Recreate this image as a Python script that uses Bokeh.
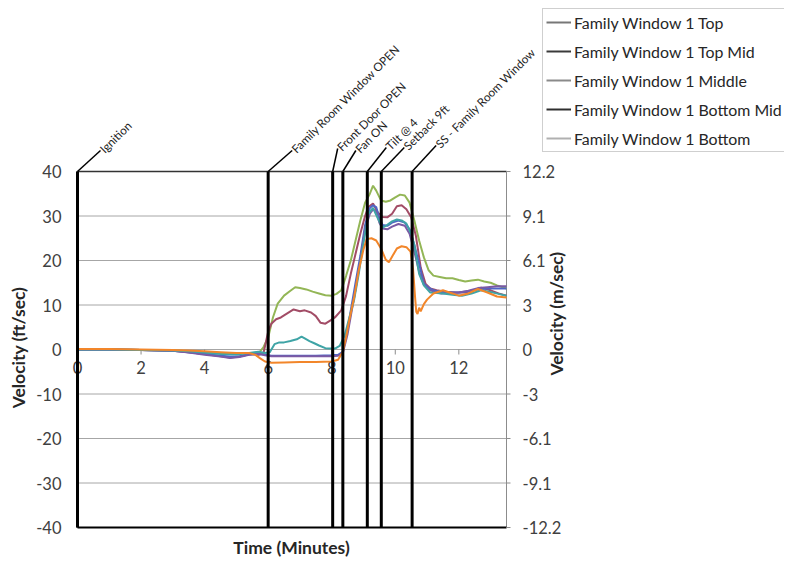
from math import pi
from bokeh.plotting import figure
from bokeh.models import Range1d, Legend, LegendItem, ColumnDataSource
from bokeh.core.properties import value
from bokeh.embed import file_html
from bokeh.resources import INLINE

# ---------------- data ----------------
series_names = ["Family Window 1 Top", "Family Window 1 Top Mid", "Family Window 1 Middle",
                "Family Window 1 Bottom Mid", "Family Window 1 Bottom"]

t_top = [0, 1, 2, 3, 3.5, 4, 4.5, 4.8, 5.1, 5.4, 5.7, 5.9, 6.1, 6.5, 7.0, 7.5, 8.0, 8.2, 8.35, 8.5,
         8.6, 8.75, 8.9, 9.05, 9.2, 9.3, 9.4, 9.5, 9.6, 9.75, 9.9, 10.1, 10.3, 10.45, 10.6, 10.75,
         10.9, 11.05, 11.2, 11.45, 11.7, 12.0, 12.3, 12.6, 12.9, 13.2, 13.5]
v_top = [0, 0, -0.1, -0.3, -0.6, -1.0, -1.4, -1.6, -1.5, -1.1, -1.0, -1.2, -1.4, -1.4, -1.4, -1.4,
         -1.3, -1.2, -0.5, 4.5, 8.8, 15, 21, 28, 31.8, 32.4, 32, 29.5, 28.0, 27.8, 28.5, 29.0, 28.5,
         27, 23.5, 19.3, 14.8, 13.9, 13.3, 12.9, 12.8, 12.8, 13.1, 13.5, 13.7, 13.7, 13.7]

t_topmid = [0, 1, 2, 3, 3.5, 4, 4.5, 4.8, 5.1, 5.4, 5.7, 5.85, 6.0, 6.1, 6.25, 6.4, 6.6, 6.8, 7.0,
            7.15, 7.35, 7.5, 7.65, 7.8, 7.95, 8.1, 8.3, 8.45, 8.6, 8.75, 8.9, 9.05, 9.15, 9.3, 9.45,
            9.6, 9.75, 9.9, 10.05, 10.2, 10.35, 10.5, 10.65, 10.8, 10.95, 11.1, 11.3, 11.6, 11.9,
            12.2, 12.5, 12.7, 13.0, 13.25, 13.5]
v_topmid = [0, 0, -0.1, -0.3, -0.6, -1.0, -1.5, -1.8, -1.6, -1.0, -1.2, -0.9, 4.0, 5.8, 6.8, 7.2,
            8.1, 9.0, 8.6, 8.8, 8.3, 7.5, 6.0, 5.8, 6.5, 7.2, 8.8, 12, 17, 21.5, 26, 30, 32, 32.8,
            30.8, 29.8, 29.7, 30.5, 32.2, 32.4, 31.5, 29.7, 25.5, 18.4, 14.8, 13.7, 13.3, 13.0,
            12.8, 12.8, 13.4, 13.9, 13.3, 12.6, 12.1]

t_middle = [0, 1, 2, 3, 3.5, 4, 4.5, 5, 5.4, 5.7, 5.85, 6.0, 6.15, 6.3, 6.5, 6.7, 6.85, 7.0, 7.2,
            7.4, 7.6, 7.8, 8.0, 8.15, 8.3, 8.45, 8.6, 8.75, 8.9, 9.05, 9.2, 9.3, 9.4, 9.55, 9.7,
            9.85, 10.0, 10.15, 10.3, 10.45, 10.6, 10.75, 10.9, 11.05, 11.2, 11.4, 11.6, 11.8, 12.0,
            12.2, 12.4, 12.6, 12.8, 13.0, 13.2, 13.5]
v_middle = [0, 0, -0.1, -0.2, -0.4, -0.7, -0.9, -1.0, -0.8, -0.8, 0.5, 2.7, 7.2, 10.3, 12.1, 13.2,
            14.0, 13.8, 13.5, 13.0, 12.6, 12.2, 12.1, 12.5, 13.3, 16.5, 20, 24.5, 29, 33, 35, 36.8,
            35.7, 33.5, 33.2, 33.5, 34.2, 34.8, 34.6, 33, 29, 24.5, 20.7, 17.8, 16.6, 16.3, 16.0,
            16.0, 15.6, 15.3, 15.5, 15.7, 15.3, 15.0, 14.4, 13.7]

t_botmid = t_top
v_botmid = [0, 0, -0.1, -0.3, -0.7, -1.2, -1.6, -1.9, -1.7, -1.2, -0.9, -1.3, -1.5, -1.5, -1.5,
            -1.5, -1.5, -1.4, -0.8, 3.5, 7.5, 13.5, 20, 27, 30.5, 31.5, 31, 28.5, 27.2, 27, 27.6,
            28.2, 27.8, 26, 22, 17.5, 14.5, 13.5, 13.0, 12.6, 12.7, 12.8, 13.2, 13.8, 14.0, 14.2,
            14.2]

t_bottom = [0, 1, 2, 3, 3.5, 4, 4.5, 5, 5.4, 5.7, 5.9, 6.05, 6.2, 6.35, 6.5, 6.7, 6.9, 7.05, 7.15,
            7.3, 7.45, 7.6, 7.8, 7.95, 8.1, 8.25, 8.4, 8.55, 8.7, 8.85, 9.0, 9.15, 9.3, 9.45, 9.6,
            9.75, 9.9, 10.05, 10.2, 10.35, 10.5, 10.6, 10.75, 10.9, 11.1, 11.3, 11.5, 11.8, 12.1,
            12.4, 12.7, 13.0, 13.25, 13.5]
v_bottom = [0, 0, -0.1, -0.2, -0.4, -0.7, -1.0, -1.1, -0.8, -0.5, -0.8, -0.6, 1.2, 1.6, 1.6, 1.9,
            2.3, 2.9, 2.5, 1.9, 1.4, 0.9, 0.3, 0.2, 0.2, 0.8, 3, 7, 11, 17, 24, 30.5, 31.8, 29.5,
            27.4, 28, 28.8, 29.2, 29, 28.3, 26, 23.5, 17, 14.4, 12.8, 12.7, 12.6, 12.3, 12.1, 12.6,
            13.3, 12.9, 12.5, 12.1]

t_sixth = [0, 1, 2, 3, 3.5, 4, 4.5, 5, 5.4, 5.6, 5.75, 5.9, 6.1, 6.5, 7.0, 7.5, 8.0, 8.2, 8.35,
           8.45, 8.55, 8.7, 8.85, 9.0, 9.1, 9.25, 9.4, 9.55, 9.7, 9.8, 9.92, 10.05, 10.2, 10.35,
           10.48, 10.56, 10.62, 10.66, 10.7, 10.75, 10.8, 10.9, 11.0, 11.2, 11.5, 11.8, 12.0, 12.3,
           12.6, 12.9, 13.2, 13.5]
v_sixth = [0.1, 0.1, 0, -0.1, -0.2, -0.4, -0.6, -0.8, -0.8, -1.2, -2.0, -2.7, -3.0, -2.9, -2.8,
           -2.8, -2.7, -2.3, -0.5, 2.7, 6.5, 11.5, 17.8, 22.5, 24.8, 25, 24.5, 22.7, 20.2, 19.6,
           21.1, 22.7, 23.2, 23, 22, 18, 12, 8.5, 8.0, 9.4, 8.6, 10.2, 11.2, 12.6, 13.3, 12.6, 12.1,
           12.6, 13.6, 12.8, 11.9, 11.7]

event_times = [0, 6.0, 8.03, 8.35, 9.12, 9.56, 10.53]
event_names = ["Ignition", "Family Room Window OPEN", "Front Door OPEN", "Fan ON", "Tilt @ 4",
               "Setback 9ft", "SS - Family Room Window"]

y_ticks = [-40, -30, -20, -10, 0, 10, 20, 30, 40]
right_tick_labels = ["-12.2", "-9.1", "-6.1", "-3", "0", "3", "6.1", "9.1", "12.2"]
x_ticks = [0, 2, 4, 6, 8, 10, 12]

# ---------------- layout / style ----------------
FONT = "Lato"
W, H = 784, 562
X_END = 13.5
Y_LO, Y_HI = -40, 40
IMG_L, IMG_R, IMG_T, IMG_B = 77, 506, 171, 527   # plot box in picture pixels
PX_PER_X = (IMG_R - IMG_L) / X_END
PX_PER_Y = (IMG_B - IMG_T) / (Y_HI - Y_LO)
IMG_Y0 = IMG_B - (0 - Y_LO) * PX_PER_Y


def dx(px):   # picture pixel x -> minutes
    return (px - IMG_L) / PX_PER_X


def dy(py):   # picture pixel y -> ft/sec
    return (IMG_Y0 - py) / PX_PER_Y


p = figure(width=W, height=H, output_backend="svg", toolbar_location=None,
           x_range=Range1d(dx(0), dx(W)), y_range=Range1d(dy(H), dy(0)),
           min_border=0, x_axis_type=None, y_axis_type=None)
p.outline_line_color = None
p.background_fill_color = "white"
p.border_fill_color = "white"
p.xgrid.visible = False
p.ygrid.visible = False

TXT = "#404040"

# horizontal gridlines + box
grid_src = ColumnDataSource(dict(y=y_ticks[1:-1]))
p.segment(x0=0, x1=X_END, y0="y", y1="y", source=grid_src, line_color="#A6A6A6", line_width=1)
p.segment(x0=[0], x1=[X_END], y0=[Y_HI], y1=[Y_HI], line_color="#333333", line_width=1.5)
p.segment(x0=[X_END], x1=[X_END], y0=[Y_LO], y1=[Y_HI], line_color="#8C8C8C", line_width=1)
p.segment(x0=[0], x1=[X_END], y0=[Y_LO], y1=[Y_LO], line_color="#000000", line_width=2)
p.segment(x0=[0], x1=[0], y0=[Y_LO], y1=[Y_HI], line_color="#000000", line_width=2)

# left tick labels
yt_src = ColumnDataSource(dict(x=[0] * len(y_ticks), xr=[X_END] * len(y_ticks), y=y_ticks,
                               tl=[str(v) for v in y_ticks], tr=right_tick_labels))
p.text(x="x", y="y", text="tl", source=yt_src, x_offset=-16, text_align="right",
       text_baseline="middle", text_font=value(FONT), text_font_size="16.5px", text_color=TXT)
# right (m/sec) tick marks + labels
p.segment(x0="xr", x1=X_END + 4 / PX_PER_X, y0="y", y1="y", source=yt_src,
          line_color="#8C8C8C", line_width=1)
p.text(x="xr", y="y", text="tr", source=yt_src, x_offset=16, text_align="left",
       text_baseline="middle", text_font=value(FONT), text_font_size="16.5px", text_color=TXT)

# x tick marks on zero line and labels
xt_src = ColumnDataSource(dict(x=x_ticks, y=[0] * len(x_ticks), text=[str(v) for v in x_ticks]))
p.segment(x0="x", x1="x", y0="y", y1=-5 / PX_PER_Y, source=xt_src, line_color="#8C8C8C", line_width=1)
p.text(x="x", y=dy(IMG_Y0 + 11), text="text", source=xt_src, text_align="center",
       text_baseline="top", text_font=value(FONT), text_font_size="16.5px", text_color=TXT)

# series
series = [
    (t_middle, v_middle, "#93B656"),
    (t_topmid, v_topmid, "#A24C66"),
    (t_top, v_top, "#4F66C6"),
    (t_botmid, v_botmid, "#7B5AA4"),
    (t_bottom, v_bottom, "#3FA4A6"),
    (t_sixth, v_sixth, "#F2862A"),
]
for tt, vv, col in series:
    p.line(tt, vv, line_color=col, line_width=2)

# event lines
ev_src = ColumnDataSource(dict(x=event_times, y0=[Y_LO] * len(event_times), y1=[Y_HI] * len(event_times)))
p.segment(x0="x", x1="x", y0="y0", y1="y1", source=ev_src, line_color="#000000", line_width=3)

lead_dx_px = [23, 24, 5, 13, 19, 23, 24]
lead_dy_px = [21, 21, 23, 21, 24, 24, 26]
lx = [t + d / PX_PER_X for t, d in zip(event_times, lead_dx_px)]
ly = [Y_HI + d / PX_PER_Y for d in lead_dy_px]
lead_src = ColumnDataSource(dict(x0=event_times, y0=[Y_HI] * len(event_times), x1=lx, y1=ly,
                                 text=event_names))
p.segment(x0="x0", y0="y0", x1="x1", y1="y1", source=lead_src, line_color="#000000", line_width=1.5)
p.text(x="x1", y="y1", text="text", source=lead_src, angle=pi / 4, x_offset=1,
       text_align="left", text_baseline="middle", text_font=value(FONT),
       text_font_size="11.7px", text_color="#1F1F1F")

# axis titles
TITLE = dict(text_align="center", text_baseline="middle", text_font=value(FONT),
             text_font_style="bold", text_font_size="17.5px", text_color="#262626")
p.text(x=[dx(18)], y=[dy(347)], text=["Velocity (ft/sec)"], angle=pi / 2, **TITLE)
p.text(x=[dx(556)], y=[dy(313)], text=["Velocity (m/sec)"], angle=pi / 2, **TITLE)
p.text(x=[dx(291)], y=[dy(547)], text=["Time (Minutes)"], **TITLE)

# legend (keys drawn in gray as in the reference; one-point lines draw nothing in the plot)
legend_colors = ["#777777", "#3A3A3A", "#8A8A8A", "#2E2E2E", "#B0B0B0"]
legend_src = [(t_top, v_top), (t_topmid, v_topmid), (t_middle, v_middle),
              (t_botmid, v_botmid), (t_bottom, v_bottom)]
items = []
for name, col, (tt, vv) in zip(series_names, legend_colors, legend_src):
    r = p.line(x=tt[:1], y=vv[:1], line_color=col, line_width=2)
    items.append(LegendItem(label=name, renderers=[r]))
legend = Legend(items=items, location=(542, H - 152))
legend.label_text_font = FONT
legend.label_text_font_size = "15.9px"
legend.label_text_color = "#262626"
legend.glyph_width = 25
legend.glyph_height = 20
legend.label_height = 20
legend.spacing = 9
legend.padding = 3
legend.margin = 0
legend.label_standoff = 3
legend.border_line_color = "#A0A0A0"
legend.border_line_width = 1
legend.background_fill_color = "white"
legend.background_fill_alpha = 1
p.add_layout(legend)

open("out.html", "w").write(file_html(p, INLINE))
